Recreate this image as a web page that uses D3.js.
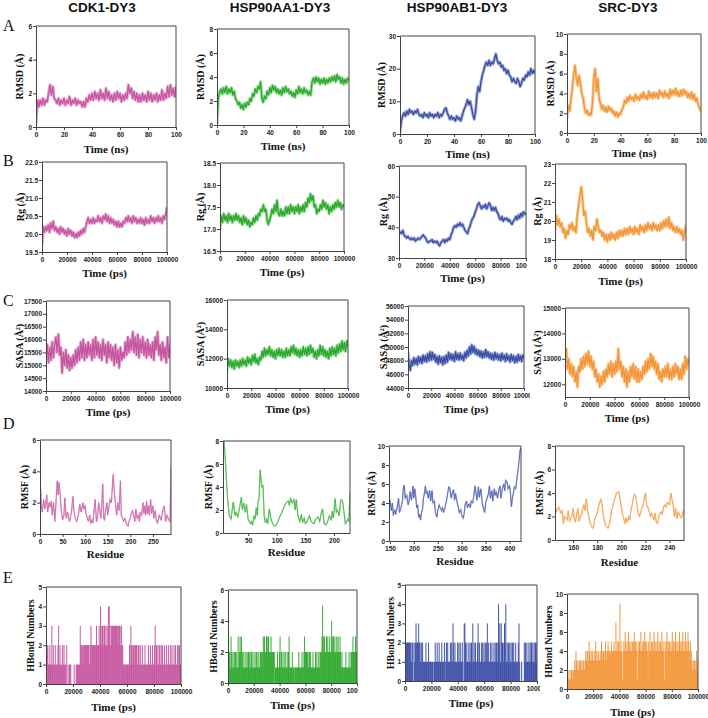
<!DOCTYPE html>
<html><head><meta charset="utf-8">
<script src="https://cdn.jsdelivr.net/npm/d3@7"></script>
<style>body{margin:0;background:#fff}</style>
</head><body>
<svg id="c" width="708" height="718"></svg>
<script>
// ---------------- DATA ----------------
const titles = ["CDK1-DY3", "HSP90AA1-DY3", "HSP90AB1-DY3", "SRC-DY3"];
const rowLetters = ["A", "B", "C", "D", "E"];

// RMSD (Å), 0..100 ns, one value per ns
const rmsdCDK1 = [0.2,1.6,1.2,1.6,1.3,1.7,1.3,1.6,1.5,2.0,2.5,1.9,2.4,1.7,1.6,1.4,1.7,1.3,1.6,1.4,1.7,1.3,1.6,1.4,1.8,1.3,1.6,1.4,1.7,1.3,1.6,1.4,1.5,1.2,1.5,1.2,1.7,1.5,1.9,1.6,2.0,1.6,2.1,1.7,2.0,1.6,2.2,1.7,2.0,1.6,2.3,1.7,2.1,1.6,1.9,1.5,2.0,1.6,2.1,1.7,2.0,1.5,1.9,1.6,2.0,1.7,2.5,2.0,2.3,1.7,2.1,1.6,2.0,1.5,1.9,1.5,2.0,1.6,1.9,1.5,2.1,1.6,2.0,1.5,1.9,1.6,2.0,1.5,1.9,1.6,2.2,1.6,2.0,1.7,2.4,1.8,2.5,1.9,2.3,1.8,2.4];
const rmsdHSP90AA1 = [0.1,2.3,2.7,3.0,2.6,3.1,2.7,3.2,2.6,3.0,2.7,3.1,2.5,2.8,2.2,2.0,1.7,1.9,1.4,1.7,1.3,1.8,1.5,1.9,1.7,2.2,2.0,2.6,2.4,3.0,2.7,3.2,3.0,3.6,2.2,1.9,2.4,2.2,2.8,2.5,3.1,2.7,3.3,2.9,3.2,2.7,3.0,2.6,2.9,2.5,3.1,2.7,3.2,2.8,3.0,2.6,2.8,2.4,2.7,2.3,2.9,2.6,3.2,2.7,3.0,2.6,3.1,2.7,2.9,2.5,2.8,2.5,3.6,3.9,3.5,4.0,3.6,3.9,3.4,3.8,3.5,3.9,3.4,3.8,3.5,3.9,3.6,4.0,3.7,4.1,3.6,4.2,3.8,4.0,3.5,3.9,3.4,3.8,3.5,3.9,3.7];
const rmsdHSP90AB1 = [0.5,4.0,5.5,6.5,5.5,7.0,6.0,7.5,6.5,7.0,6.0,7.0,6.5,7.5,6.0,5.5,6.0,5.0,6.5,5.5,6.0,5.0,6.5,5.5,6.0,5.0,6.0,5.5,6.5,5.0,6.0,5.5,6.5,7.5,8.0,6.5,5.5,4.5,5.5,4.5,5.0,4.0,5.5,4.5,5.0,4.0,5.5,7.0,8.0,9.0,10.5,9.0,10.0,8.0,6.0,4.5,7.0,12.0,14.5,13.0,16.0,18.0,19.5,21.0,22.0,21.0,22.5,21.0,22.0,21.5,23.0,24.5,22.5,21.5,22.0,20.5,21.0,19.5,20.0,18.5,19.5,18.0,17.5,16.0,17.0,16.0,15.5,17.0,16.0,14.5,15.5,17.0,16.5,18.0,17.5,19.0,18.0,20.0,18.5,19.5,18.5];
const rmsdSRC = [1.5,2.8,2.2,3.5,4.5,6.0,6.8,5.5,4.8,5.8,5.0,4.0,3.5,2.6,2.0,2.3,1.8,2.0,1.8,3.0,5.5,6.5,4.2,5.5,3.5,2.9,2.4,2.8,2.2,2.6,2.1,2.7,2.3,2.5,2.0,2.2,1.7,2.1,1.6,2.0,1.9,2.4,2.6,3.3,3.0,3.6,3.2,3.8,3.4,3.6,3.2,3.9,3.4,3.7,3.3,3.9,3.5,4.1,3.5,3.8,3.4,4.2,3.6,4.0,3.5,4.1,3.6,4.0,3.5,4.3,3.8,4.1,3.6,4.2,3.7,4.0,3.5,4.4,3.8,4.3,3.9,4.5,3.8,4.2,3.7,4.3,3.8,4.4,3.9,4.2,3.6,4.0,3.5,4.1,3.4,3.9,3.2,3.5,2.8,2.5,2.2];

// Rg (Å), 0..100000 ps, one value per 1000 ps
const rgCDK1 = [19.7,20.2,20.05,20.2,20.1,20.25,20.05,20.3,20.15,20.35,20.1,20.2,20.05,20.15,20.0,20.2,20.05,20.15,20.0,20.1,19.95,20.15,20.0,20.1,19.95,20.05,19.9,20.0,19.9,20.05,19.95,20.1,20.0,20.15,20.05,20.2,20.35,20.45,20.3,20.4,20.3,20.45,20.3,20.4,20.35,20.5,20.35,20.45,20.3,20.5,20.4,20.55,20.35,20.5,20.3,20.45,20.3,20.4,20.25,20.35,20.2,20.35,20.2,20.3,20.2,20.35,20.3,20.45,20.35,20.5,20.35,20.45,20.3,20.5,20.35,20.45,20.3,20.4,20.3,20.45,20.3,20.4,20.25,20.45,20.3,20.4,20.3,20.5,20.35,20.45,20.3,20.45,20.35,20.5,20.35,20.45,20.3,20.5,20.4,20.55,20.75];
const rgHSP90AA1 = [17.0,17.3,17.15,17.35,17.2,17.3,17.15,17.35,17.2,17.3,17.15,17.3,17.2,17.35,17.2,17.3,17.15,17.25,17.1,17.3,17.15,17.25,17.1,17.2,17.05,17.15,17.1,17.25,17.15,17.3,17.2,17.35,17.3,17.45,17.4,17.55,17.4,17.45,17.2,17.1,17.2,17.3,17.45,17.35,17.55,17.4,17.65,17.35,17.3,17.45,17.3,17.4,17.3,17.5,17.35,17.5,17.35,17.55,17.4,17.5,17.35,17.5,17.4,17.55,17.35,17.5,17.4,17.55,17.4,17.6,17.5,17.7,17.6,17.8,17.65,17.75,17.5,17.55,17.35,17.45,17.4,17.55,17.45,17.65,17.5,17.6,17.45,17.55,17.35,17.5,17.4,17.55,17.45,17.6,17.5,17.65,17.5,17.6,17.45,17.55,17.5];
const rgHSP90AB1 = [38.0,38.5,38.0,39.0,37.5,37.0,36.5,37.0,36.5,36.0,36.5,36.0,36.5,35.5,36.0,36.5,36.0,36.5,37.0,37.5,37.0,36.5,35.5,35.0,35.5,35.5,36.0,35.0,35.5,35.0,35.5,34.5,34.0,35.0,35.5,36.0,35.0,36.0,35.5,36.5,36.0,37.5,38.5,40.0,40.5,40.0,41.0,40.5,41.5,40.5,41.0,40.0,39.0,38.5,38.0,39.5,40.5,42.0,43.0,43.5,45.0,46.0,47.5,48.0,47.0,46.0,47.0,46.5,47.5,46.0,47.0,48.0,47.0,45.5,46.5,45.5,46.5,45.0,44.5,43.0,42.5,43.5,42.0,43.0,42.5,43.0,42.0,42.5,41.5,41.0,42.0,42.5,43.5,42.5,44.0,43.0,44.5,43.5,45.0,44.5,44.0];
const rgSRC = [19.5,20.3,19.8,20.1,19.7,19.9,19.4,19.6,19.1,19.5,19.3,19.8,19.6,19.9,19.5,19.7,19.4,20.3,20.8,21.3,21.8,21.2,20.3,20.5,19.9,19.4,19.6,19.2,19.5,19.0,19.7,19.5,20.1,19.7,19.4,19.5,19.2,19.4,19.0,19.3,18.9,19.3,19.0,19.4,19.1,19.3,19.0,19.4,19.1,19.5,19.2,19.5,19.2,19.6,19.3,19.6,19.3,19.7,19.4,19.6,19.3,19.7,19.4,19.6,19.3,19.8,19.5,19.7,19.4,19.8,19.5,19.9,19.6,19.8,19.5,19.9,19.6,19.8,19.5,19.8,19.5,19.9,19.6,20.0,19.7,20.1,19.7,20.2,19.6,19.9,19.5,19.7,19.4,19.7,19.4,19.6,19.3,19.5,19.0,19.4,19.8];

// SASA (Å²), 0..100000 ps, one value per 1000 ps
const sasaCDK1 = [15300,15800,15100,15700,15200,15900,15300,15800,16100,15500,16200,15400,15700,14700,15500,15000,15600,14900,15400,14800,15300,14900,15400,15000,15600,15100,15700,15200,15900,15300,16000,15200,15800,15300,15900,15400,15800,15200,16000,15300,16100,15400,15900,15300,15800,15200,16000,15400,15800,15100,15900,15300,15800,15200,15700,15000,15800,15100,15600,14900,15700,15200,15500,15300,15900,15400,16100,15500,16000,15600,16300,15500,16100,15400,16200,15300,16000,15500,16100,15400,15900,15300,16000,15400,15800,15300,15900,15200,16100,15600,16300,15400,15800,15200,15900,15300,15700,15100,16100,15300,15800];
const sasaHSP90AA1 = [11200,12000,11500,11900,11400,11800,11300,11900,11500,11800,11400,11900,11500,12000,11600,11900,11500,12100,11700,12000,11600,12200,11800,12300,11700,12000,11600,12100,11900,12500,12100,12700,12200,12600,12300,12800,12200,12600,12100,12500,12000,12600,12200,12700,12200,12600,12100,12500,12100,12700,12200,12600,12200,12800,12400,12900,12300,12700,12200,12600,12100,12600,12200,12800,12300,12700,12200,12800,12300,12900,12400,12700,12100,12500,12000,12600,12200,12900,12300,12800,12200,12600,12100,12500,12000,12700,12200,12800,12300,12700,12200,12900,12400,13000,12500,13200,12600,13100,12500,13200,12800];
const sasaHSP90AB1 = [49200,47500,46600,48000,47300,48400,47500,48300,47400,48600,47700,48500,47600,48800,47900,48700,47800,49000,48000,49300,48100,49200,48200,48900,47800,48600,47500,48700,47700,48500,47400,48600,47600,48800,47800,49200,48200,49000,48100,48900,47900,49300,48200,49000,48100,49100,48200,48800,48000,49200,48400,49500,48700,50000,49000,50300,49200,50100,49000,49700,48800,49500,48600,49400,48400,49300,48500,49600,48600,49300,48400,49100,48200,49000,48100,49200,48300,49000,48100,48900,48000,49100,48200,48800,47900,49000,48100,48700,47800,48900,48000,48700,47700,48600,47800,48900,48000,48700,47900,48800,48400];
const sasaSRC = [12900,13400,12600,13000,12400,12800,12300,12700,12100,12500,11900,12700,12500,13000,12600,13100,12700,13200,12800,13300,12700,13100,12600,12900,12300,12600,12100,12400,11900,12300,12000,12500,12100,12600,12300,12800,12400,12900,12300,12800,12400,12900,12500,13400,12600,12900,12300,12700,12100,12600,11900,12500,12100,12700,12300,12800,12200,12700,12100,12600,12100,12500,12200,12700,12400,12900,12500,13000,12600,13200,12700,13100,12600,12900,12400,12800,12200,12500,12100,12600,12300,12700,12300,12800,12200,12600,12200,12700,12300,12800,12400,12700,12200,12600,12200,12800,12400,13100,12600,13000,12800];

// RMSF (Å) per residue: [residue, value]
const rmsfCDK1 = [[1,3.1],[3,1.8],[5,1.4],[8,2.2],[11,1.6],[15,2.5],[17,1.4],[20,2.0],[22,1.7],[25,2.1],[27,1.2],[30,2.0],[33,0.8],[35,1.8],[38,3.4],[40,2.5],[42,3.3],[45,2.4],[47,1.5],[50,0.9],[53,1.2],[55,2.3],[58,1.0],[61,1.4],[65,0.8],[67,1.0],[70,1.5],[73,2.4],[75,1.5],[78,1.0],[81,0.8],[85,1.2],[88,1.9],[91,1.4],[95,2.0],[97,1.6],[100,1.8],[102,1.3],[105,1.0],[107,0.8],[110,1.2],[112,0.7],[115,0.9],[117,0.7],[122,2.2],[125,0.8],[127,1.0],[130,2.0],[135,1.0],[139,3.2],[141,1.0],[143,0.9],[145,1.5],[148,2.0],[150,1.2],[152,1.6],[155,2.2],[158,2.0],[162,3.8],[165,2.5],[168,1.6],[170,1.2],[172,2.0],[175,1.5],[178,3.4],[180,1.2],[185,0.8],[188,1.0],[192,0.6],[195,0.5],[197,0.8],[200,1.0],[202,1.3],[205,1.5],[210,0.8],[212,1.6],[215,1.0],[218,1.2],[220,0.8],[222,1.4],[225,1.2],[228,2.0],[230,1.3],[232,1.8],[234,1.2],[236,2.1],[238,1.3],[240,1.8],[242,1.2],[245,2.2],[247,1.3],[250,1.8],[252,1.0],[255,1.5],[258,0.8],[260,0.7],[264,1.2],[268,0.9],[272,1.5],[275,1.8],[278,0.8],[281,1.2],[285,0.9],[288,0.8],[290,4.3]];
const rmsfHSP90AA1 = [[8,8.0],[11,5.5],[14,3.0],[17,1.5],[20,1.2],[24,2.7],[27,1.5],[29,1.8],[32,1.4],[35,2.2],[38,3.1],[40,2.0],[42,2.6],[45,1.8],[47,2.5],[50,1.2],[54,0.8],[56,1.0],[58,0.7],[60,1.5],[62,1.2],[64,2.2],[66,1.5],[67,2.6],[69,3.0],[71,5.5],[74,4.0],[76,4.1],[78,1.5],[80,0.9],[82,1.2],[84,0.8],[87,2.1],[90,1.2],[93,0.8],[96,0.6],[99,0.7],[102,1.0],[106,1.5],[109,1.8],[112,2.2],[116,2.6],[120,2.8],[122,2.4],[124,3.0],[127,2.6],[130,2.9],[132,2.0],[134,2.9],[137,1.5],[140,1.0],[143,1.6],[145,0.9],[148,1.3],[150,0.8],[153,1.0],[157,1.5],[160,1.0],[165,0.8],[168,1.2],[172,1.4],[175,1.0],[178,1.8],[180,2.1],[183,0.8],[186,0.7],[189,1.0],[192,1.5],[195,1.1],[197,1.9],[199,1.3],[202,3.0],[204,1.8],[206,2.0],[209,1.5],[212,2.9],[215,2.8],[217,2.0],[220,0.8],[224,1.2],[226,1.0],[228,3.5]];
const rmsfHSP90AB1 = [[148,4.5],[150,4.3],[153,3.2],[155,4.0],[157,2.7],[160,3.3],[162,2.8],[165,3.5],[168,4.5],[170,3.0],[173,3.5],[176,4.2],[178,5.6],[180,5.9],[182,4.5],[185,4.8],[188,3.8],[190,4.2],[192,5.2],[195,4.3],[198,5.8],[200,4.5],[202,5.5],[204,4.6],[206,3.5],[208,3.8],[210,2.5],[212,2.8],[214,2.2],[216,3.0],[218,3.3],[220,4.5],[222,5.0],[224,5.8],[226,5.0],[228,5.2],[230,4.5],[233,5.3],[235,4.2],[238,5.3],[240,4.0],[243,4.2],[245,3.0],[248,2.5],[250,3.2],[253,3.8],[255,3.5],[258,3.2],[260,3.5],[262,3.0],[265,3.5],[268,4.2],[270,4.8],[273,5.7],[275,5.6],[278,4.5],[280,5.0],[283,5.4],[285,4.3],[287,5.0],[290,4.2],[293,3.5],[295,3.0],[298,3.3],[300,2.7],[303,2.4],[305,2.8],[307,3.8],[310,4.2],[312,3.5],[315,3.9],[318,3.5],[320,4.2],[323,4.0],[326,5.0],[328,5.8],[330,5.0],[332,4.3],[335,5.7],[337,4.6],[340,5.5],[343,4.0],[345,3.5],[348,3.0],[350,4.0],[353,4.5],[356,5.0],[358,5.8],[360,4.5],[363,5.3],[365,4.2],[368,5.5],[370,4.8],[372,5.2],[375,4.5],[378,5.5],[380,5.8],[382,4.5],[385,5.5],[388,6.0],[390,5.3],[392,6.4],[395,6.2],[397,5.5],[400,5.8],[402,5.0],[404,3.6],[406,4.5],[408,5.0],[410,5.7],[413,5.5],[416,6.8],[418,7.5],[420,8.5],[422,9.5],[424,9.8]];
const rmsfSRC = [[145,3.0],[146,2.4],[148,2.8],[150,2.3],[151,2.5],[152,1.4],[153,2.0],[155,1.7],[156,2.5],[157,1.6],[159,2.0],[160,2.7],[161,1.8],[162,1.5],[163,2.2],[164,2.7],[165,1.6],[167,2.2],[168,2.7],[169,3.0],[170,2.5],[171,3.5],[172,2.6],[173,2.0],[174,1.5],[176,1.0],[177,1.1],[178,1.8],[179,2.0],[180,2.3],[181,2.8],[183,3.5],[184,3.0],[185,2.2],[186,1.6],[187,1.2],[189,1.0],[190,1.3],[191,1.9],[192,2.5],[194,3.3],[196,4.0],[198,4.1],[199,3.5],[200,2.8],[201,2.2],[202,1.8],[203,1.4],[204,1.9],[205,1.5],[206,2.0],[207,1.7],[208,2.5],[209,3.0],[210,3.6],[211,3.9],[212,3.7],[213,3.0],[214,2.3],[215,2.0],[216,2.3],[217,2.7],[218,3.0],[219,3.5],[220,4.0],[221,3.0],[222,2.8],[223,2.5],[224,2.0],[225,2.3],[226,2.0],[227,1.7],[228,2.3],[229,1.5],[230,1.4],[231,2.0],[232,2.2],[233,2.4],[234,2.2],[235,2.8],[236,3.0],[237,2.8],[238,3.2],[239,3.1],[240,3.0],[241,4.0],[242,3.5],[243,3.0],[244,2.0],[245,2.7],[246,1.8],[247,2.4],[248,2.2],[249,2.0],[250,1.9],[251,2.3],[252,2.6]];

// H-bond numbers, 0..100000 ps, one value per 500 ps
const hbCDK1 = [2,2,2,1,1,2,1,1,3,1, 2,1,1,2,1,1,1,2,3,1, 2,1,1,1,2,1,2,1,1,0, 2,0,1,0,1,1,1,0,0,0, 0,1,0,0,1,1,1,1,1,1, 3,2,2,2,1,2,2,2,2,2, 2,2,2,2,1,2,3,2,2,2, 2,2,2,2,3,2,2,2,3,2, 4,3,2,3,2,3,3,2,3,2, 3,2,4,4,3,2,3,3,3,3, 3,3,3,3,3,3,2,3,3,3, 2,3,2,2,1,1,1,1,1,1, 1,1,1,2,1,3,2,2,1,2, 2,1,2,2,2,1,2,2,1,2, 1,1,2,1,1,1,2,1,1,1, 1,2,1,1,2,1,1,2,1,1, 2,3,1,2,1,2,1,2,2,1, 2,1,2,1,1,2,1,1,2,1, 1,2,1,1,2,1,2,1,1,2, 1,2,1,1,2,1,2,2,1,1, 3];
const hbHSP90AA1 = [3,2,2,1,3,2,1,2,1,2, 1,2,1,2,1,3,1,2,3,2, 3,1,2,1,2,1,1,2,1,2, 1,2,1,2,1,2,2,1,2,1, 1,2,1,2,2,1,2,1,1,2, 2,2,1,2,3,2,3,2,2,3, 3,2,3,2,2,2,3,2,2,2, 2,2,0,1,1,1,2,1,1,2, 3,1,2,2,1,1,2,1,2,1, 1,2,1,2,3,1,1,1,1,2, 1,1,1,0,1,1,1,1,1,2, 1,1,1,1,2,1,1,2,3,2, 2,2,2,2,1,2,2,2,1,1, 1,2,1,1,1,2,1,2,1,1, 2,1,2,2,2,3,5,3,2,3, 2,2,3,2,3,2,2,3,2,2, 4,3,2,3,2,3,2,2,3,2, 3,2,2,3,2,1,2,1,1,1, 1,1,2,1,1,1,1,2,1,1, 2,2,2,3,2,2,2,3,2,2, 2];
const hbHSP90AB1 = [3,2,2,2,2,2,2,2,2,1, 2,2,0,2,1,2,3,2,2,2, 3,2,2,1,2,1,2,1,1,1, 1,2,1,1,1,2,1,1,1,1, 1,1,0,1,1,2,1,1,2,1, 1,2,1,1,1,2,1,1,1,2, 0,1,2,1,2,1,1,1,2,1, 2,1,3,2,1,2,1,1,1,2, 1,2,1,2,1,1,2,1,0,3, 3,2,1,2,1,1,2,1,2,1, 2,1,3,1,2,1,2,1,1,2, 3,1,2,1,1,2,1,2,1,2, 1,2,1,2,3,1,2,1,1,2, 1,2,1,1,2,1,2,1,2,1, 2,4,2,3,1,3,2,2,1,2, 3,2,4,1,2,1,2,1,2,1, 2,1,2,1,2,1,1,2,1,1, 1,2,3,1,0,0,1,0,0,0, 2,1,2,1,2,1,1,2,1,2, 1,2,1,2,1,2,1,2,1,2, 3];
const hbSRC = [1,2,1,1,2,1,2,2,1,2, 2,3,2,4,3,2,3,2,3,2, 3,2,3,2,3,3,2,3,4,3, 4,4,3,5,4,3,4,3,4,3, 3,4,3,5,3,4,3,4,3,3, 4,3,5,4,3,4,4,3,5,4, 3,4,5,4,4,3,4,5,4,4, 4,5,4,4,7,4,5,4,5,4, 9,4,5,4,1,4,5,4,6,5, 4,5,4,6,4,5,4,5,4,5, 4,5,6,4,5,4,5,1,4,5, 5,4,6,4,5,4,5,4,6,5, 4,5,4,1,5,4,6,4,5,4, 5,4,6,5,4,5,4,5,6,4, 5,4,5,4,6,4,5,4,1,5, 4,5,6,4,5,4,5,4,5,4, 6,4,5,4,5,6,4,5,4,5, 4,6,4,5,4,5,6,4,5,4, 6,4,5,4,6,5,4,3,5,4, 3,2,3,2,3,2,3,4,2,3, 4];

// Tick values
const ticksTimeNs = [0, 20, 40, 60, 80, 100];
const ticksTimePs = [0, 20000, 40000, 60000, 80000, 100000];

// ---------------- LAYOUT ----------------
const colors = ["#C6559F", "#2CA82C", "#3B4EA6", "#F39537"];
const fringe = ["#E4AAD2", "#9ADB9A", "#A5AFDA", "#F9CB98"];

const panels = [
  // row A
  {r:0,c:0,kind:"ts",data:rmsdCDK1,xd:[0,100],yd:[0,6],xt:ticksTimeNs,yt:[0,2,4,6],box:[36,26,176,127],yl:"RMSD (Å)",xl:"Time (ns)",ylx:19,xly:149},
  {r:0,c:1,kind:"ts",data:rmsdHSP90AA1,xd:[0,100],yd:[0,8],xt:ticksTimeNs,yt:[0,2,4,6,8],box:[217,29,349,125],yl:"RMSD (Å)",xl:"Time (ns)",ylx:200,xly:146},
  {r:0,c:2,kind:"ts",data:rmsdHSP90AB1,xd:[0,100],yd:[0,30],xt:ticksTimeNs,yt:[0,10,20,30],box:[400,36,535,134],yl:"RMSD (Å)",xl:"Time (ns)",ylx:381,xly:154},
  {r:0,c:3,kind:"ts",data:rmsdSRC,xd:[0,100],yd:[0,10],xt:ticksTimeNs,yt:[0,2,4,6,8,10],box:[567,34,701,133],yl:"RMSD (Å)",xl:"Time (ns)",ylx:550,xly:153},
  // row B
  {r:1,c:0,kind:"ts",data:rgCDK1,xd:[0,100000],yd:[19.5,22],xt:ticksTimePs,yt:[19.5,20,20.5,21,21.5,22],yf:".1f",box:[42,162,167,252],yl:"Rg (Å)",xl:"Time (ps)",ylx:20,xly:273},
  {r:1,c:1,kind:"ts",data:rgHSP90AA1,xd:[0,100000],yd:[16.5,18.5],xt:ticksTimePs,yt:[16.5,17,17.5,18,18.5],yf:".1f",box:[220,163,344,251],yl:"Rg (Å)",xl:"Time (ps)",ylx:200,xly:272},
  {r:1,c:2,kind:"ts",data:rgHSP90AB1,xd:[0,100000],yd:[30,60],xt:ticksTimePs,yt:[30,40,50,60],box:[399,166,526,258],yl:"Rg (Å)",xl:"Time (ps)",ylx:383,xly:278,clip:527},
  {r:1,c:3,kind:"ts",data:rgSRC,xd:[0,100000],yd:[18,23],xt:ticksTimePs,yt:[18,19,20,21,22,23],box:[555,164,686,259],yl:"Rg (Å)",xl:"Time (ps)",ylx:537,xly:281},
  // row C
  {r:2,c:0,kind:"ts",data:sasaCDK1,xd:[0,100000],yd:[14000,17500],xt:ticksTimePs,yt:[14000,14500,15000,15500,16000,16500,17000,17500],box:[46,301,170,391],yl:"SASA (Å²)",xl:"Time (ps)",ylx:19,xly:412},
  {r:2,c:1,kind:"ts",data:sasaHSP90AA1,xd:[0,100000],yd:[10000,16000],xt:ticksTimePs,yt:[10000,12000,14000,16000],box:[227,300,348,388],yl:"SASA (Å²)",xl:"Time (ps)",ylx:200,xly:409},
  {r:2,c:2,kind:"ts",data:sasaHSP90AB1,xd:[0,100000],yd:[44000,56000],xt:ticksTimePs,yt:[44000,46000,48000,50000,52000,54000,56000],box:[408,306,524,388],yl:"SASA (Å²)",xl:"Time (ps)",ylx:383,xly:409,clip:530},
  {r:2,c:3,kind:"ts",data:sasaSRC,xd:[0,100000],yd:[11500,15000],xt:ticksTimePs,yt:[12000,13000,14000,15000],box:[565,308,689,397],yl:"SASA (Å²)",xl:"Time (ps)",ylx:537,xly:418},
  // row D
  {r:3,c:0,kind:"xy",data:rmsfCDK1,xd:[0,290],yd:[0,6],xt:[0,50,100,150,200,250],yt:[0,2,4,6],box:[40,440,171,534],yl:"RMSF (Å)",xl:"Residue",ylx:24,xly:554},
  {r:3,c:1,kind:"xy",data:rmsfHSP90AA1,xd:[6,228],yd:[0,8],xt:[50,100,150,200],yt:[0,2,4,6,8],box:[223,441,350,533],yl:"RMSF (Å)",xl:"Residue",ylx:208,xly:552},
  {r:3,c:2,kind:"xy",data:rmsfHSP90AB1,xd:[148,424],yd:[0,10],xt:[150,200,250,300,350,400],yt:[0,2,4,6,8,10],box:[389,446,521,541],yl:"RMSF (Å)",xl:"Residue",ylx:371,xly:561},
  {r:3,c:3,kind:"xy",data:rmsfSRC,xd:[145,252],yd:[0,8],xt:[160,180,200,220,240],yt:[0,2,4,6,8],box:[555,446,684,540],yl:"RMSF (Å)",xl:"Residue",ylx:539,xly:562},
  // row E
  {r:4,c:0,kind:"hb",data:hbCDK1,xd:[0,100000],yd:[0,5],xt:ticksTimePs,yt:[0,1,2,3,4,5],box:[46,587,181,684],yl:"HBond Numbers",xl:"Time (ps)",ylx:30,xly:707},
  {r:4,c:1,kind:"hb",data:hbHSP90AA1,xd:[0,100000],yd:[0,6],xt:ticksTimePs,yt:[0,2,4,6],box:[228,590,357,683],yl:"HBond Numbers",xl:"Time (ps)",ylx:213,xly:705,clip:358},
  {r:4,c:2,kind:"hb",data:hbHSP90AB1,xd:[0,100000],yd:[0,5],xt:ticksTimePs,yt:[0,1,2,3,4,5],box:[405,585,537,681],yl:"HBond Numbers",xl:"Time (ps)",ylx:390,xly:703,clip:540},
  {r:4,c:3,kind:"hb",data:hbSRC,xd:[0,100000],yd:[0,10],xt:ticksTimePs,yt:[0,2,4,6,8,10],box:[567,594,698,689],yl:"HBond Numbers",xl:"Time (ps)",ylx:548,xly:712}
];

const titleX = [102, 280, 457, 628];
const letterY = [31, 166, 306, 429, 583];

// ---------------- DRAW ----------------
const svg = d3.select("#c");
const sans = "'Liberation Sans', Arial, sans-serif";
const serif = "'Liberation Serif', 'Times New Roman', serif";
const axisCol = "#444";

titles.forEach((t, i) => {
  svg.append("text").attr("x", titleX[i]).attr("y", 12).attr("text-anchor", "middle")
    .attr("font-family", sans).attr("font-weight", "bold").attr("font-size", 13.5).attr("fill", "#111").text(t);
});
rowLetters.forEach((t, i) => {
  svg.append("text").attr("x", 3).attr("y", letterY[i]).attr("font-family", serif)
    .attr("font-size", 16).attr("fill", "#111").text(t);
});

const defs = svg.append("defs");

panels.forEach((p, pi) => {
  const [x0, y0, x1, y1] = p.box;
  const x = d3.scaleLinear().domain(p.xd).range([x0, x1]);
  const y = d3.scaleLinear().domain(p.yd).range([y1, y0]);
  const col = colors[p.c], fr = fringe[p.c];

  const cid = "clip" + pi;
  defs.append("clipPath").attr("id", cid).append("rect")
    .attr("x", x0).attr("y", y0).attr("width", x1 - x0).attr("height", y1 - y0);
  const g = svg.append("g").attr("clip-path", `url(#${cid})`);

  if (p.kind === "ts") {
    const n = p.data.length;
    const pts = p.data.map((v, i) => [p.xd[0] + i * (p.xd[1] - p.xd[0]) / (n - 1), v]);
    const line = d3.line().x(d => x(d[0])).y(d => y(d[1]));
    g.append("path").attr("d", line(pts)).attr("fill", "none").attr("stroke", fr)
      .attr("stroke-width", 3.2).attr("stroke-linejoin", "round");
    g.append("path").attr("d", line(pts)).attr("fill", "none").attr("stroke", col)
      .attr("stroke-width", 1.3).attr("stroke-linejoin", "round");
  } else if (p.kind === "xy") {
    const line = d3.line().x(d => x(d[0])).y(d => y(d[1]));
    g.append("path").attr("d", line(p.data)).attr("fill", "none").attr("stroke", fr)
      .attr("stroke-width", 1.4);
    g.append("path").attr("d", line(p.data)).attr("fill", "none").attr("stroke", col)
      .attr("stroke-width", 0.6);
  } else if (p.kind === "hb") {
    const n = p.data.length;
    const step = (p.xd[1] - p.xd[0]) / (n - 1);
    const w = Math.abs(x(step) - x(0));
    g.selectAll("rect.hb").data(p.data).join("rect")
      .attr("x", (d, i) => x(p.xd[0] + i * step))
      .attr("y", d => y(d))
      .attr("width", w + 0.3)
      .attr("height", d => y(0) - y(d))
      .attr("fill", col);
  }

  // frame top/right
  svg.append("path").attr("d", `M${x0},${y0}H${x1}V${y1}`).attr("fill", "none")
    .attr("stroke", axisCol).attr("stroke-width", 1);

  const fmtY = p.yf ? d3.format(p.yf) : d3.format("d");
  const ax = svg.append("g").attr("transform", `translate(${x0},0)`)
    .call(d3.axisLeft(y).tickValues(p.yt).tickFormat(fmtY).tickSize(3).tickSizeOuter(0));
  const bxg = svg.append("g").attr("transform", `translate(0,${y1})`)
    .call(d3.axisBottom(x).tickValues(p.xt).tickFormat(d3.format("d")).tickSize(3).tickSizeOuter(0));
  [ax, bxg].forEach(a => {
    a.selectAll("path,line").attr("stroke", axisCol).attr("stroke-width", 1);
    a.selectAll("text").attr("font-family", sans).attr("font-weight", "bold")
      .attr("font-size", 6.5).attr("fill", "#222");
  });
  ax.selectAll("text").attr("x", -4);
  bxg.selectAll("text").attr("y", 5);
  if (p.clip) {
    const lc = "lclip" + pi;
    defs.append("clipPath").attr("id", lc).append("rect")
      .attr("x", 0).attr("y", -20).attr("width", p.clip).attr("height", 40);
    bxg.attr("clip-path", `url(#${lc})`);
  }

  const yc = (y0 + y1) / 2;
  svg.append("text").attr("transform", `translate(${p.ylx},${yc}) rotate(-90)`)
    .attr("text-anchor", "middle").attr("dominant-baseline", "central")
    .attr("font-family", serif).attr("font-weight", "bold").attr("font-size", 10)
    .attr("fill", "#111").text(p.yl);
  svg.append("text").attr("x", (x0 + x1) / 2).attr("y", p.xly)
    .attr("text-anchor", "middle").attr("dominant-baseline", "central")
    .attr("font-family", serif).attr("font-weight", "bold").attr("font-size", 11)
    .attr("fill", "#111").text(p.xl);
});
</script>
</body></html>
